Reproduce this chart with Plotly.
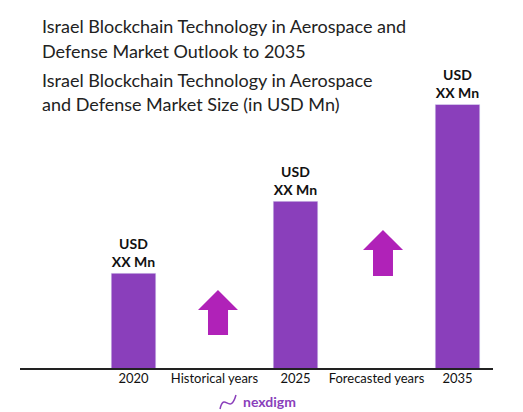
import plotly.graph_objects as go

categories = ["2020", "Historical years", "2025", "Forecasted years", "2035"]
values = [36.2, 0, 63.4, 0, 100]
bar_labels = ["USD<br>XX Mn", "", "USD<br>XX Mn", "", "USD<br>XX Mn"]

W, H = 523, 412
def px(x): return x / W
def py(y): return 1 - y / H

fig = go.Figure(go.Bar(
    x=categories, y=values, width=0.55, marker_color="#8a3fbb",
    text=bar_labels, textposition="outside", cliponaxis=False,
    textfont=dict(family="Lato", size=14, color="#111"),
))
fig.update_traces(texttemplate="<b>%{text}</b>")

fig.add_shape(type="line", xref="paper", yref="paper", x0=px(12), x1=px(485),
              y0=py(361), y1=py(361), line=dict(color="#222", width=2))

def arrow(cx, top, bottom, hw, sw, head):
    pts = [(cx, top), (cx + hw, top + head), (cx + sw, top + head), (cx + sw, bottom),
           (cx - sw, bottom), (cx - sw, top + head), (cx - hw, top + head)]
    return "M " + " L ".join(f"{px(a):.4f},{py(b):.4f}" for a, b in pts) + " Z"

fig.add_shape(type="path", xref="paper", yref="paper", path=arrow(210, 282, 327, 20, 10, 20),
              fillcolor="#b022b8", line_width=0)
fig.add_shape(type="path", xref="paper", yref="paper", path=arrow(375, 222, 268, 20, 10, 20),
              fillcolor="#b022b8", line_width=0)

titles = [("Israel Blockchain Technology in Aerospace and", 18),
          ("Defense Market Outlook to 2035", 43),
          ("Israel Blockchain Technology in Aerospace", 72),
          ("and Defense Market Size (in USD Mn)", 96)]
for t, y in titles:
    fig.add_annotation(text=t, x=px(32), y=py(y), xref="paper", yref="paper",
                       xanchor="left", yanchor="middle", showarrow=False,
                       font=dict(family="Lato", size=18, color="#222"))
fig.add_annotation(text="<b>nexdigm</b>", x=px(233), y=py(393), xref="paper", yref="paper",
                   xanchor="left", yanchor="middle", showarrow=False,
                   font=dict(family="Lato", size=14, color="#8a3fbb"))
fig.add_shape(type="path", xref="paper", yref="paper",
              path=f"M {px(212):.4f},{py(401):.4f} C {px(216):.4f},{py(383):.4f} {px(222):.4f},{py(408):.4f} {px(228):.4f},{py(387):.4f}",
              line=dict(color="#8a3fbb", width=1.5))

fig.update_layout(
    width=W, height=H, margin=dict(l=0, r=0, t=0, b=0),
    plot_bgcolor="white", paper_bgcolor="white", showlegend=False, bargap=0.45,
    xaxis=dict(domain=[px(85), px(490)], showline=False, showgrid=False, ticks="",
               tickfont=dict(family="Lato", size=13, color="#111")),
    yaxis=dict(domain=[py(361), py(70)], range=[0, 110], visible=False),
)
fig.write_html("out.html")
